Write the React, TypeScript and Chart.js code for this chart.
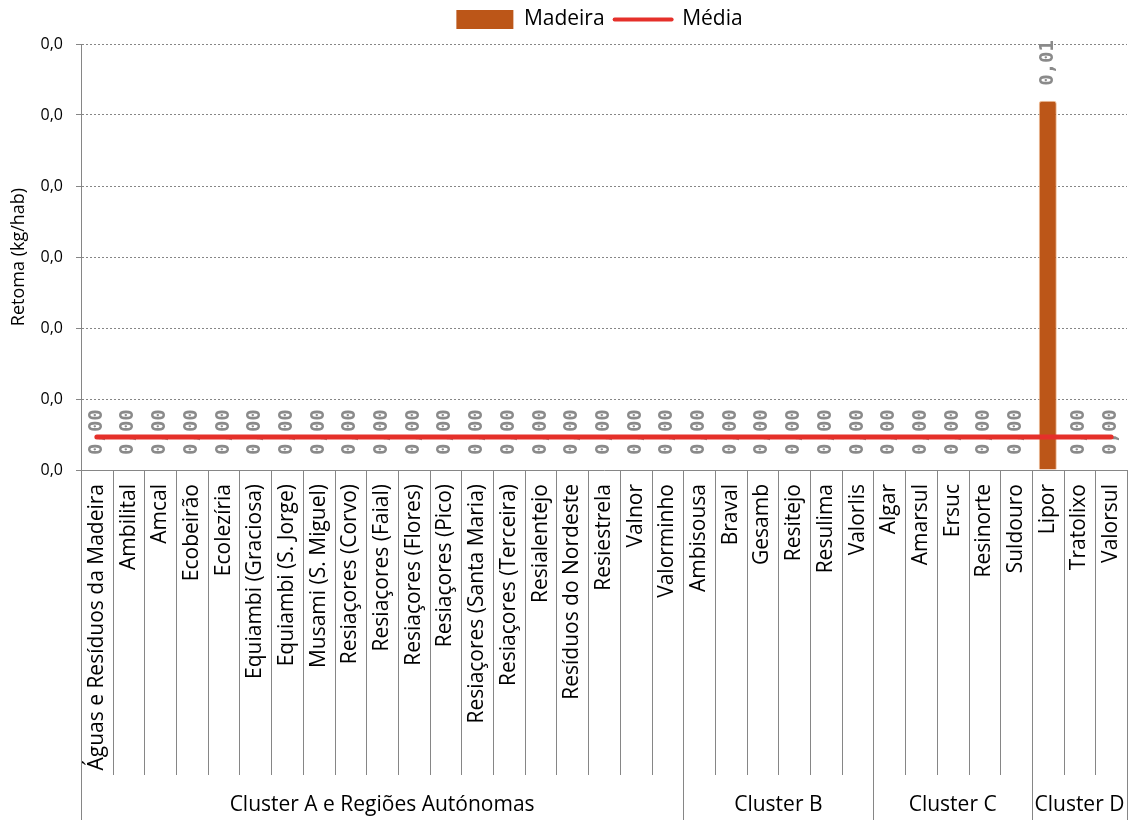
import React, { useEffect, useRef } from "react";
import { Chart, registerables } from "chart.js";

Chart.register(...registerables);

const categories: string[] = [
  "Águas e Resíduos da Madeira", "Ambilital", "Amcal", "Ecobeirão", "Ecolezíria",
  "Equiambi (Graciosa)", "Equiambi (S. Jorge)", "Musami (S. Miguel)", "Resiaçores (Corvo)",
  "Resiaçores (Faial)", "Resiaçores (Flores)", "Resiaçores (Pico)", "Resiaçores (Santa Maria)",
  "Resiaçores (Terceira)", "Resialentejo", "Resíduos do Nordeste", "Resiestrela", "Valnor",
  "Valorminho",
  "Ambisousa", "Braval", "Gesamb", "Resitejo", "Resulima", "Valorlis",
  "Algar", "Amarsul", "Ersuc", "Resinorte", "Suldouro",
  "Lipor", "Tratolixo", "Valorsul",
];

const clusterNames: string[] = ["Cluster A e Regiões Autónomas", "Cluster B", "Cluster C", "Cluster D"];
const clusterSizes: number[] = [19, 6, 5, 3];

const madeira: number[] = [
  0, 0, 0, 0, 0, 0, 0, 0, 0, 0, 0, 0, 0, 0, 0, 0, 0, 0, 0,
  0, 0, 0, 0, 0, 0,
  0, 0, 0, 0, 0,
  0.0104, 0, 0,
];

const media: number[] = [
  0.00093, 0.00093, 0.00093, 0.00093, 0.00093, 0.00093, 0.00093, 0.00093, 0.00093, 0.00093, 0.00093,
  0.00093, 0.00093, 0.00093, 0.00093, 0.00093, 0.00093, 0.00093, 0.00093, 0.00093, 0.00093, 0.00093,
  0.00093, 0.00093, 0.00093, 0.00093, 0.00093, 0.00093, 0.00093, 0.00093, 0.00093, 0.00093, 0.00093,
];

const yMin = 0;
const yMax = 0.012;
const yStep = 0.002;

const BAR_COLOR = "#BC5618";
const LINE_COLOR = "#E5302A";
const AXIS_COLOR = "#868686";
const FONT = "'Open Sans', sans-serif";

const legendShiftPlugin = {
  id: "legendShift",
  afterLayout(chart: any) {
    const lg = chart.legend;
    if (!lg) return;
    lg.left += 36;
    lg.right += 36;
    lg.top -= 4;
    lg.bottom -= 4;
  },
};

const labelPlugin = {
  id: "barLabels",
  afterDatasetDraw(chart: any, args: any) {
    if (args.index !== 0) return;
    const ctx = chart.ctx;
    const meta = chart.getDatasetMeta(0);
    ctx.save();
    ctx.font = "bold 19px 'DejaVu Sans Mono', monospace";
    ctx.fillStyle = "#8A8A8A";
    ctx.textAlign = "left";
    ctx.textBaseline = "middle";
    meta.data.forEach((el: any, i: number) => {
      const v = madeira[i];
      const txt = v.toFixed(2).replace(".", ",");
      ctx.save();
      ctx.translate(el.x, el.y - 15);
      ctx.rotate(-Math.PI / 2);
      ctx.fillText(txt, 0, 0);
      ctx.restore();
    });
    ctx.restore();
  },
};

const groupPlugin = {
  id: "groups",
  afterDraw(chart: any) {
    const ctx = chart.ctx;
    const xs = chart.scales.x;
    const area = chart.chartArea;
    const n = categories.length;
    const w = (area.right - area.left) / n;
    const boundaries = new Set<number>();
    let acc = 0;
    boundaries.add(0);
    clusterSizes.forEach((s) => {
      acc += s;
      boundaries.add(acc);
    });
    ctx.save();
    ctx.strokeStyle = AXIS_COLOR;
    ctx.lineWidth = 1;
    for (let k = 0; k <= n; k++) {
      const x = Math.round(xs.getPixelForValue(Math.min(k, n - 1)) + (k === n ? w / 2 : -w / 2)) + 0.5;
      const yEnd = boundaries.has(k) ? chart.height : area.bottom + 305;
      ctx.beginPath();
      ctx.moveTo(x, area.bottom);
      ctx.lineTo(x, yEnd);
      ctx.stroke();
    }
    ctx.font = "21px " + FONT;
    ctx.fillStyle = "#000";
    ctx.textAlign = "center";
    ctx.textBaseline = "middle";
    let start = 0;
    clusterSizes.forEach((s, gi) => {
      const x0 = area.left + start * w;
      const x1 = area.left + (start + s) * w;
      ctx.fillText(clusterNames[gi], (x0 + x1) / 2, area.bottom + 335);
      start += s;
    });
    ctx.restore();
  },
};

export default function App() {
  const ref = useRef<HTMLCanvasElement | null>(null);
  useEffect(() => {
    if (!ref.current) return;
    Chart.defaults.font.family = FONT;
    const chart = new Chart(ref.current, {
      type: "bar",
      data: {
        labels: categories,
        datasets: [
          {
            type: "bar",
            label: "Madeira",
            data: madeira,
            backgroundColor: BAR_COLOR,
            borderColor: "#F0C09A",
            borderWidth: 1,
            borderRadius: 3,
            barPercentage: 0.57,
            categoryPercentage: 1,
            order: 1,
          },
          {
            type: "line",
            label: "Média",
            data: media,
            borderColor: LINE_COLOR,
            backgroundColor: LINE_COLOR,
            borderWidth: 5,
            pointRadius: 0,
            borderCapStyle: "round",
            order: 0,
          },
        ] as any,
      },
      options: {
        responsive: false,
        animation: false,
        layout: { padding: { top: 3, right: 2, left: 0, bottom: 0 } },
        plugins: {
          tooltip: { enabled: false },
          legend: {
            position: "top",
            labels: {
              color: "#000",
              font: { size: 21, family: FONT },
              usePointStyle: true,
              pointStyleWidth: 57,
              boxHeight: 19,
              padding: 10,
              generateLabels: () => [
                { text: "Madeira", fillStyle: BAR_COLOR, strokeStyle: BAR_COLOR, lineWidth: 0, pointStyle: "rect", datasetIndex: 0, hidden: false, fontColor: "#000" } as any,
                { text: "Média", fillStyle: LINE_COLOR, strokeStyle: LINE_COLOR, lineWidth: 4, lineCap: "round", pointStyle: "line", datasetIndex: 1, hidden: false, fontColor: "#000" } as any,
              ],
            },
          },
        },
        scales: {
          x: {
            offset: true,
            grid: { display: true, drawOnChartArea: false, drawTicks: false },
            border: { display: true, color: AXIS_COLOR, width: 1 },
            ticks: {
              autoSkip: false,
              maxRotation: 90,
              minRotation: 90,
              padding: 14,
              color: "#000",
              font: { size: 21, family: FONT },
            },
            afterFit: (s: any) => {
              s.height = 350;
              s.paddingLeft = 0;
              s.paddingRight = 0;
            },
          },
          y: {
            min: yMin,
            max: yMax,
            grid: { color: AXIS_COLOR, lineWidth: 1, tickLength: 5, tickColor: AXIS_COLOR },
            border: { display: true, color: AXIS_COLOR, width: 1, dash: [2, 2] },
            ticks: {
              stepSize: yStep,
              padding: 13,
              color: "#000",
              font: { size: 16, family: FONT },
              callback: (v: any) => Number(v).toFixed(1).replace(".", ","),
            },
            title: {
              display: true,
              text: "Retoma (kg/hab)",
              color: "#000",
              font: { size: 18, family: FONT },
              padding: { top: 8, bottom: 0 },
            },
            afterFit: (s: any) => {
              s.width = 81;
            },
          },
        },
      },
      plugins: [legendShiftPlugin, labelPlugin, groupPlugin],
    });
    return () => chart.destroy();
  }, []);
  return (
    <div style={{ position: "absolute", left: 0, top: 0, width: 1129, height: 820 }}>
      <canvas ref={ref} width={1129} height={820} style={{ display: "block" }} />
    </div>
  );
}
